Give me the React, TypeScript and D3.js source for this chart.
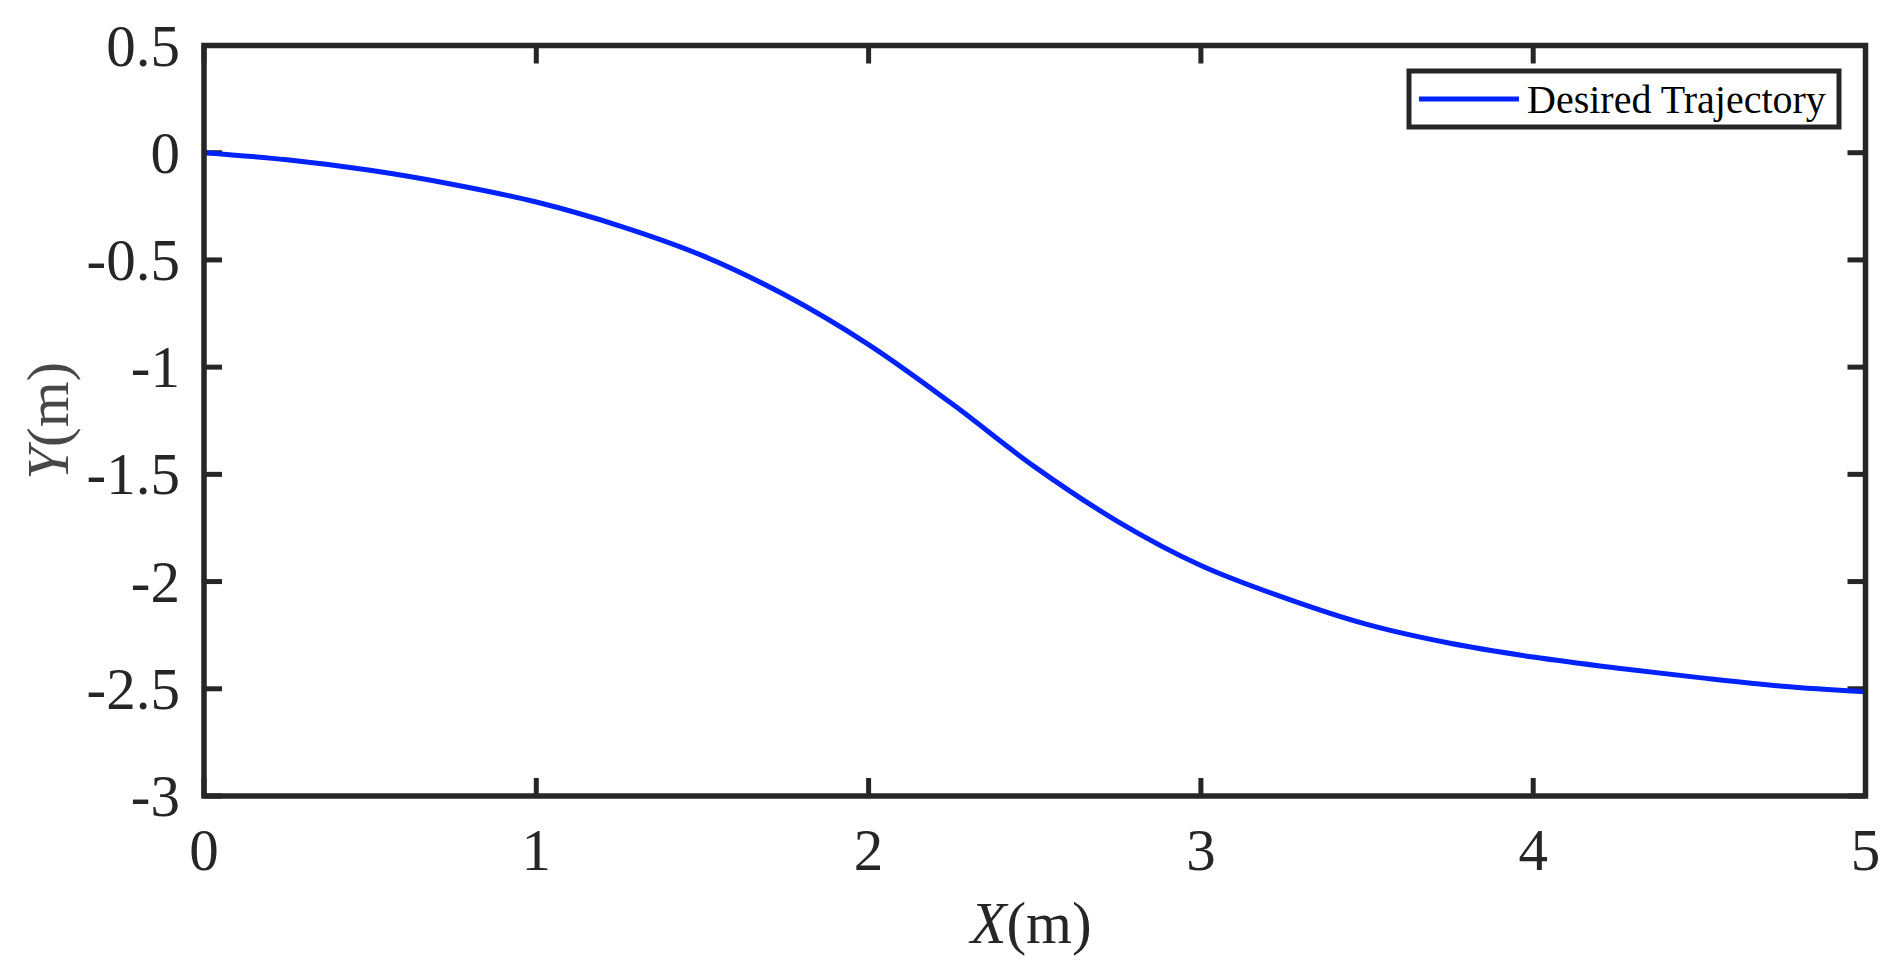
import React, { useRef, useEffect } from "react";
import * as d3 from "d3";

// trajectory samples
const xValues = [0, 0.25, 0.5, 0.75, 1, 1.25, 1.5, 1.75, 2, 2.25, 2.5, 2.75, 3, 3.25, 3.5, 3.75, 4, 4.25, 4.5, 4.75, 5];
const yValues = [0, -0.033, -0.082, -0.148, -0.23, -0.341, -0.48, -0.665, -0.895, -1.17, -1.465, -1.72, -1.925, -2.075, -2.2, -2.288, -2.352, -2.403, -2.448, -2.488, -2.514];

const xTicks = [0, 1, 2, 3, 4, 5];
const yTicks = [0.5, 0, -0.5, -1, -1.5, -2, -2.5, -3];
const seriesName = "Desired Trajectory";

const FONT = "'Liberation Serif', 'Times New Roman', serif";
const AXIS_COLOR = "#262626";

const App = () => {
    const ref = useRef<SVGSVGElement | null>(null);

    useEffect(() => {
        const width = 1895, height = 971;
        const margin = { top: 45.5, right: 29.5, bottom: 175, left: 204 };

        const svg = d3.select(ref.current);
        svg.selectAll("*").remove();
        svg.attr("width", width).attr("height", height);

        const x = d3.scaleLinear().domain([0, 5]).range([margin.left, width - margin.right]);
        const y = d3.scaleLinear().domain([-3, 0.5]).range([height - margin.bottom, margin.top]);

        const tickLen = 18;
        const fmt = (d: number) => String(d);

        // tick marks on all four sides, pointing inward
        const ticks = svg.append("g").attr("stroke", AXIS_COLOR).attr("stroke-width", 5);
        xTicks.forEach(t => {
            ticks.append("line").attr("x1", x(t)).attr("x2", x(t)).attr("y1", y(-3)).attr("y2", y(-3) - tickLen);
            ticks.append("line").attr("x1", x(t)).attr("x2", x(t)).attr("y1", y(0.5)).attr("y2", y(0.5) + tickLen);
        });
        yTicks.forEach(t => {
            ticks.append("line").attr("x1", x(0)).attr("x2", x(0) + tickLen).attr("y1", y(t)).attr("y2", y(t));
            ticks.append("line").attr("x1", x(5)).attr("x2", x(5) - tickLen).attr("y1", y(t)).attr("y2", y(t));
        });

        // the curve
        const line = d3.line<number>()
            .x((_, i) => x(xValues[i]))
            .y(d => y(d))
            .curve(d3.curveCatmullRom.alpha(0.5));

        svg.append("path")
            .datum(yValues)
            .attr("d", line)
            .attr("fill", "none")
            .attr("stroke", "#0022ff")
            .attr("stroke-width", 5);

        // box
        svg.append("rect")
            .attr("x", x(0)).attr("y", y(0.5))
            .attr("width", x(5) - x(0)).attr("height", y(-3) - y(0.5))
            .attr("fill", "none")
            .attr("stroke", AXIS_COLOR)
            .attr("stroke-width", 5.5);

        // tick labels
        svg.append("g").selectAll("text")
            .data(xTicks)
            .join("text")
            .attr("x", d => x(d))
            .attr("y", 870)
            .attr("text-anchor", "middle")
            .attr("font-family", FONT)
            .attr("font-size", 59)
            .attr("fill", AXIS_COLOR)
            .text(fmt);

        svg.append("g").selectAll("text")
            .data(yTicks)
            .join("text")
            .attr("x", 180)
            .attr("y", d => y(d) + 20)
            .attr("text-anchor", "end")
            .attr("font-family", FONT)
            .attr("font-size", 59)
            .attr("fill", AXIS_COLOR)
            .text(fmt);

        // axis labels
        const xl = svg.append("text")
            .attr("x", 1031).attr("y", 943)
            .attr("text-anchor", "middle")
            .attr("font-family", FONT)
            .attr("font-size", 59)
            .attr("fill", AXIS_COLOR);
        xl.append("tspan").attr("font-style", "italic").text("X");
        xl.append("tspan").text("(m)");

        const yl = svg.append("text")
            .attr("transform", `translate(68,${(y(0.5) + y(-3)) / 2}) rotate(-90)`)
            .attr("text-anchor", "middle")
            .attr("font-family", FONT)
            .attr("font-size", 59)
            .attr("fill", "#474747");
        yl.append("tspan").attr("font-style", "italic").text("Y");
        yl.append("tspan").text("(m)");

        // legend
        const lg = svg.append("g");
        lg.append("rect")
            .attr("x", 1409).attr("y", 71)
            .attr("width", 430).attr("height", 56)
            .attr("fill", "#fff")
            .attr("stroke", AXIS_COLOR)
            .attr("stroke-width", 5);
        lg.append("line")
            .attr("x1", 1419).attr("x2", 1519)
            .attr("y1", 99).attr("y2", 99)
            .attr("stroke", "#0022ff")
            .attr("stroke-width", 5);
        lg.append("text")
            .attr("x", 1527).attr("y", 113)
            .attr("font-family", FONT)
            .attr("font-size", 40)
            .attr("fill", "#000")
            .text(seriesName);
    }, []);

    return (
        <div>
            <style>{`body{margin:0;background:#fff}`}</style>
            <svg ref={ref} style={{ display: "block" }} />
        </div>
    );
};

export default App;
